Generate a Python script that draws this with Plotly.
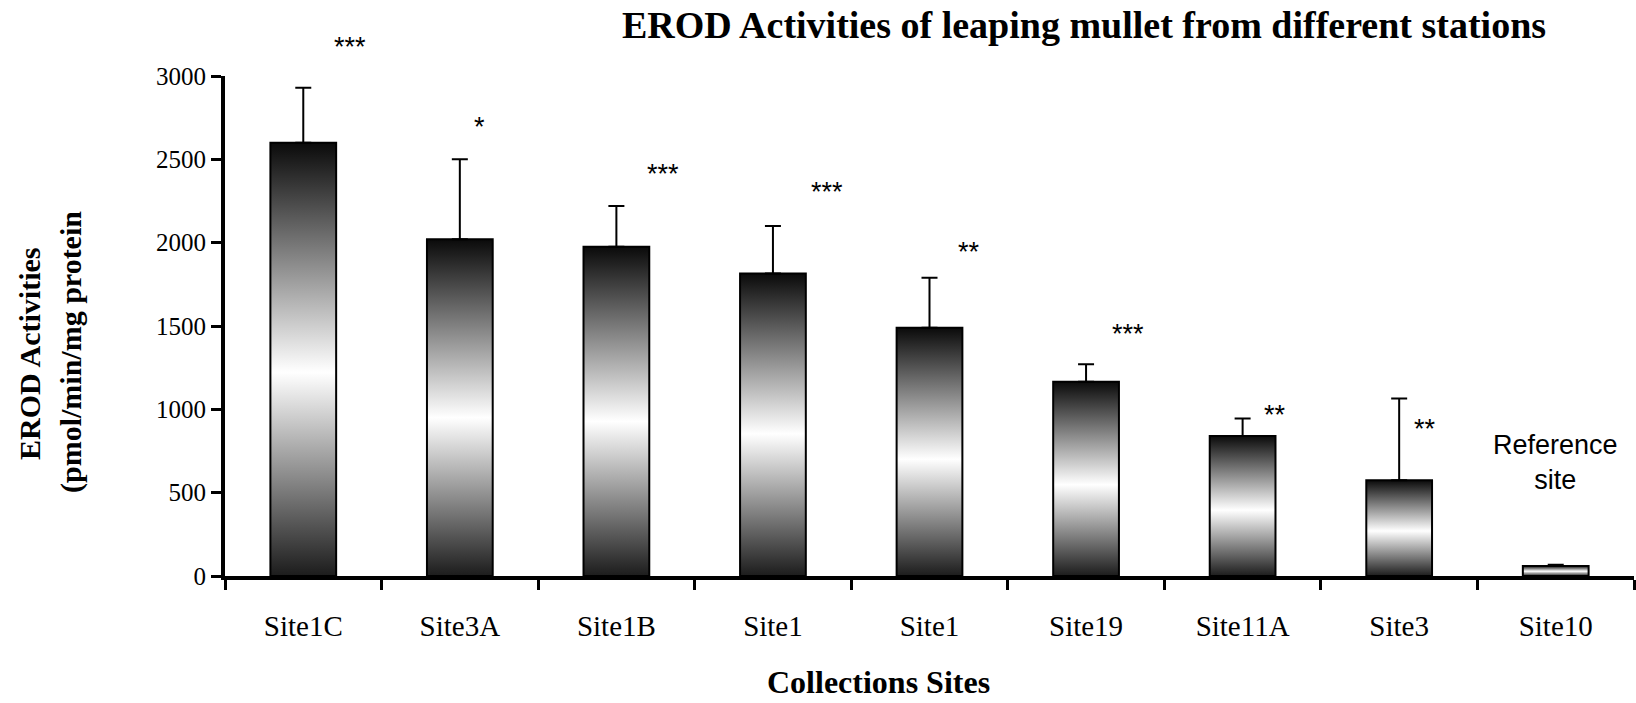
import plotly.graph_objects as go

# EROD activity per collection site (pmol/min/mg protein)
sites = ["Site1C", "Site3A", "Site1B", "Site1", "Site1", "Site19", "Site11A", "Site3", "Site10"]
erod_mean = [2600, 2020, 1975, 1815, 1490, 1165, 840, 575, 60]
erod_sd = [330, 480, 245, 285, 300, 105, 105, 490, 8]
significance = ["***", "*", "***", "***", "**", "***", "**", "**", ""]
y_ticks = [0, 500, 1000, 1500, 2000, 2500, 3000]

# placement of the significance marks (x in category units, y in data units)
star_x = [0.297, 1.127, 2.298, 3.343, 4.253, 5.267, 6.205, 7.162]
star_y = [3216, 2736, 2454, 2348, 1986, 1494, 1008, 924]

SERIF = "Liberation Serif"
SANS = "Liberation Sans"
HALF = 0.21  # half bar width in category units
Y_MAX = 3000

# plot area in pixels
L, R, T, B = 225, 2, 76, 127
W, H = 1636, 703
PW, PH = W - L - R, H - T - B


def px_x(p):
    return (p - L) / PW


def px_y(p):
    return (H - B - p) / PH


fig = go.Figure()

# gradient-filled bars: dark at the ends, white in the middle
grad = [[0, "#1c1c1c"], [0.47, "#ffffff"], [1, "#0a0a0a"]]
for i, v in enumerate(erod_mean):
    fig.add_trace(go.Scatter(
        x=[i - HALF, i - HALF, i + HALF, i + HALF, i - HALF],
        y=[0, v, v, 0, 0],
        mode="lines",
        fill="toself",
        fillgradient=dict(type="vertical", colorscale=grad),
        line=dict(color="black", width=2),
        hoverinfo="skip",
        showlegend=False,
    ))

# upper error bars
fig.add_trace(go.Scatter(
    x=list(range(len(sites))),
    y=erod_mean,
    mode="markers",
    marker=dict(size=1, opacity=0),
    error_y=dict(type="data", array=erod_sd, arrayminus=[0] * len(sites),
                 symmetric=False, color="black", thickness=2, width=8),
    showlegend=False,
))

annotations = []
for xs, ys, txt in zip(star_x, star_y, significance):
    annotations.append(dict(x=xs, y=ys / Y_MAX, xref="x", yref="paper", text=txt,
                            showarrow=False,
                            font=dict(family=SANS, size=27, color="black"),
                            xanchor="center", yanchor="middle", yshift=-7))

annotations.append(dict(x=8, y=px_y(462), xref="x", yref="paper",
                        text="Reference<br>site", showarrow=False,
                        font=dict(family=SANS, size=27, color="black"),
                        xanchor="center", yanchor="middle"))

# y-axis title, two lines
annotations.append(dict(x=px_x(29), y=px_y(354), xref="paper", yref="paper",
                        text="<b>EROD Activities</b>", textangle=-90, showarrow=False,
                        font=dict(family=SERIF, size=30, color="black"),
                        xanchor="center", yanchor="middle"))
annotations.append(dict(x=px_x(71), y=px_y(352), xref="paper", yref="paper",
                        text="<b>(pmol/min/mg protein</b>", textangle=-90, showarrow=False,
                        font=dict(family=SERIF, size=30, color="black"),
                        xanchor="center", yanchor="middle"))

# x-axis title
annotations.append(dict(x=px_x(878), y=px_y(702), xref="paper", yref="paper",
                        text="<b>Collections Sites</b>", showarrow=False,
                        font=dict(family=SERIF, size=32, color="black"),
                        xanchor="center", yanchor="bottom"))

fig.update_layout(
    width=W, height=H,
    margin=dict(l=L, r=R, t=T, b=B, pad=0),
    paper_bgcolor="white", plot_bgcolor="white",
    title=dict(text="<b>EROD Activities of leaping mullet from different stations</b>",
               x=1084 / W, xanchor="center", y=1 - 25 / H, yanchor="middle",
               font=dict(family=SERIF, size=38, color="black")),
    annotations=annotations,
    showlegend=False,
)

fig.update_xaxes(
    range=[-0.5, len(sites) - 0.5],
    tickmode="array", tickvals=list(range(len(sites))), ticktext=sites,
    ticks="outside", ticklen=0, ticklabelstandoff=21,
    tickfont=dict(family=SERIF, size=29, color="black"),
    minor=dict(tickmode="array", tickvals=[k - 0.5 for k in range(len(sites) + 1)],
               ticks="outside", ticklen=10, tickwidth=3, tickcolor="black"),
    showline=True, linewidth=4, linecolor="black",
    showgrid=False, zeroline=False, fixedrange=True,
)
fig.update_yaxes(
    range=[0, Y_MAX],
    tickmode="array", tickvals=y_ticks,
    ticks="outside", ticklen=10, tickwidth=3, tickcolor="black",
    tickfont=dict(family=SERIF, size=25, color="black"),
    showline=True, linewidth=4, linecolor="black",
    showgrid=False, zeroline=False, fixedrange=True,
)

fig.write_html("out.html")
